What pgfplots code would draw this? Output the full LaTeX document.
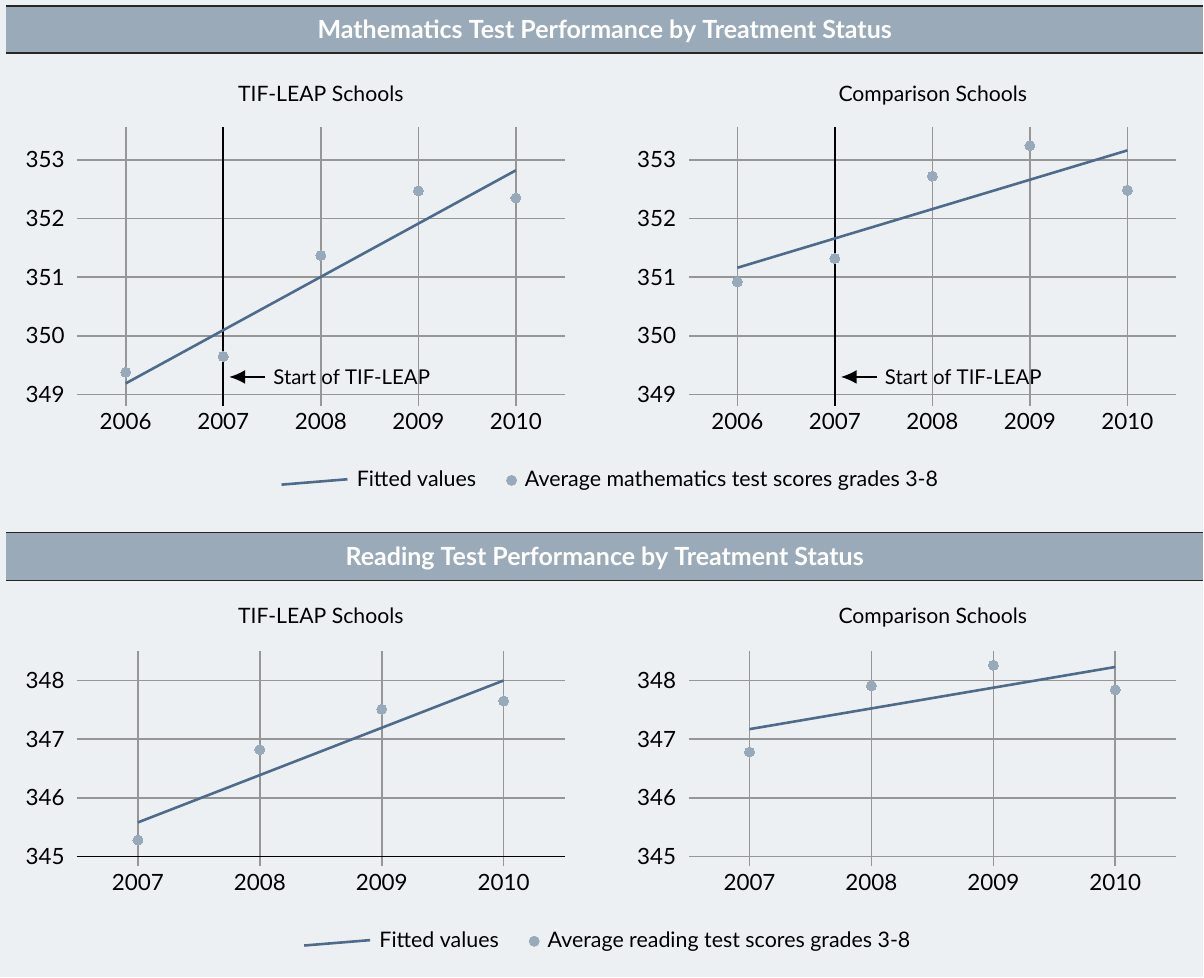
\documentclass[border=0pt]{standalone}
\usepackage{pgfplots}
\pgfplotsset{compat=1.18}
\usepackage{fontspec}
\setmainfont{Lato}
\usetikzlibrary{arrows.meta}
\definecolor{bgc}{RGB}{236,240,243}
\definecolor{barc}{RGB}{154,170,185}
\definecolor{fitc}{RGB}{79,107,140}
\definecolor{ptc}{RGB}{152,169,186}
\definecolor{gridc}{RGB}{150,150,150}
\newcommand{\fs}{\fontsize{11.2}{13.4}\selectfont}
\newcommand{\fst}{\fontsize{10.6}{12.6}\selectfont}
\newcommand{\fsl}{\fontsize{10.7}{12.6}\selectfont}
\newcommand{\fsa}{\fontsize{10.2}{12.2}\selectfont}
\newcommand{\fsb}{\fontsize{12.5}{14.5}\selectfont\bfseries}
\tikzset{startarrow/.style={-{Latex[length=8pt,width=7pt]}, line width=1.1pt}}
\pgfplotsset{
  panel/.style={
    scale only axis, width=244pt, anchor=south west,
    axis line style={draw=none}, tick style={draw=none},
    major tick length=0pt,
    xmajorgrids, ymajorgrids,
    grid style={gridc, line width=0.8pt},
    ticklabel style={font=\fs, inner sep=0pt},
    /pgf/number format/assume math mode=true,
    /pgf/number format/1000 sep={},
    xticklabel style={anchor=base, yshift=-12pt},
    yticklabel style={anchor=east, xshift=-6pt},
    clip=false,
  },
  fit/.style={fitc, line width=1.3pt,
    legend image code/.code={\draw[fitc, line width=1.3pt] (0pt,-2.1pt) -- (33pt,0.6pt);}},
  pts/.style={ptc, only marks, mark=*, mark size=2.5pt, mark options={fill=ptc, draw=ptc, line width=0pt},
    legend image code/.code={\fill[ptc] (2.5pt,0pt) circle (2.5pt);}},
  leg/.style={legend columns=2,
    legend style={draw=none, fill=none, inner sep=0pt, font=\fsl, column sep=4pt,
      nodes={inner sep=0pt}, /tikz/every even column/.append style={column sep=15pt}},
    legend cell align=left},
}
\begin{document}
\begin{tikzpicture}[font=\fs]
\fill[bgc] (0,0) rectangle (602pt,489pt);
% header bars
\fill[barc] (3pt,462.5pt) rectangle (602pt,486pt);
\draw[line width=0.8pt, black!85] (3pt,486pt) -- (602pt,486pt);
\draw[line width=0.8pt, black!85] (3pt,462.5pt) -- (602pt,462.5pt);
\node[anchor=base, text=white, font=\fsb] at (302.5pt,469.8pt) {Mathematics Test Performance by Treatment Status};
\fill[barc] (3pt,198.5pt) rectangle (602pt,222.5pt);
\draw[line width=0.8pt, black!85] (3pt,222.5pt) -- (602pt,222.5pt);
\draw[line width=0.8pt, black!85] (3pt,198.5pt) -- (602pt,198.5pt);
\node[anchor=base, text=white, font=\fsb] at (302.5pt,206pt) {Reading Test Performance by Treatment Status};
% subplot titles
\node[anchor=base, font=\fst] at (160.5pt,438pt) {TIF-LEAP Schools};
\node[anchor=base, font=\fst] at (466.7pt,438pt) {Comparison Schools};
\node[anchor=base, font=\fst] at (160.5pt,177pt) {TIF-LEAP Schools};
\node[anchor=base, font=\fst] at (466.7pt,177pt) {Comparison Schools};

% Math TIF-LEAP
\begin{axis}[panel, leg, at={(38.5pt,286pt)}, height=139.5pt,
  xmin=2005.5, xmax=2010.5, ymin=348.81, ymax=353.56,
  xtick={2006,2007,2008,2009,2010}, ytick={349,350,351,352,353},
  legend style={at={(0.416,-0.268)}, anchor=west}]
\addplot[black, line width=1.2pt, forget plot] coordinates {(2007,348.81) (2007,353.56)};
\addplot[fit] coordinates {(2006,349.19) (2010,352.82)};
\addplot[pts] coordinates {(2006,349.38) (2007,349.65) (2008,351.37) (2009,352.47) (2010,352.35)};
\legend{Fitted values, Average mathematics test scores grades 3-8}
\draw[startarrow] (axis cs:2007.43,349.30) -- (axis cs:2007.06,349.30);
\node[anchor=west, inner sep=0pt, font=\fsa] at (axis cs:2007.51,349.30) {Start of TIF-LEAP};
\end{axis}

% Math Comparison
\begin{axis}[panel, at={(344.5pt,286pt)}, height=139.5pt,
  xmin=2005.5, xmax=2010.5, ymin=348.81, ymax=353.56,
  xtick={2006,2007,2008,2009,2010}, ytick={349,350,351,352,353}]
\addplot[black, line width=1.2pt] coordinates {(2007,348.81) (2007,353.56)};
\addplot[fit] coordinates {(2006,351.16) (2010,353.16)};
\addplot[pts] coordinates {(2006,350.92) (2007,351.32) (2008,352.72) (2009,353.24) (2010,352.48)};
\draw[startarrow] (axis cs:2007.43,349.30) -- (axis cs:2007.06,349.30);
\node[anchor=west, inner sep=0pt, font=\fsa] at (axis cs:2007.51,349.30) {Start of TIF-LEAP};
\end{axis}

% Reading TIF-LEAP
\begin{axis}[panel, leg, at={(38.5pt,55.5pt)}, height=108pt,
  xmin=2006.5, xmax=2010.5, ymin=344.83, ymax=348.51,
  xtick={2007,2008,2009,2010}, ytick={345,346,347,348},
  legend style={at={(0.4625,-0.347)}, anchor=west}]
\addplot[black, line width=0.8pt, forget plot] coordinates {(2006.5,345) (2010.5,345)};
\addplot[fit] coordinates {(2007,345.58) (2010,348.00)};
\addplot[pts] coordinates {(2007,345.28) (2008,346.82) (2009,347.51) (2010,347.65)};
\legend{Fitted values, Average reading test scores grades 3-8}
\end{axis}

% Reading Comparison
\begin{axis}[panel, at={(344.5pt,55.5pt)}, height=108pt,
  xmin=2006.5, xmax=2010.5, ymin=344.83, ymax=348.51,
  xtick={2007,2008,2009,2010}, ytick={345,346,347,348}]
\addplot[fit] coordinates {(2007,347.17) (2010,348.23)};
\addplot[pts] coordinates {(2007,346.78) (2008,347.91) (2009,348.26) (2010,347.84)};
\end{axis}
\end{tikzpicture}
\end{document}
